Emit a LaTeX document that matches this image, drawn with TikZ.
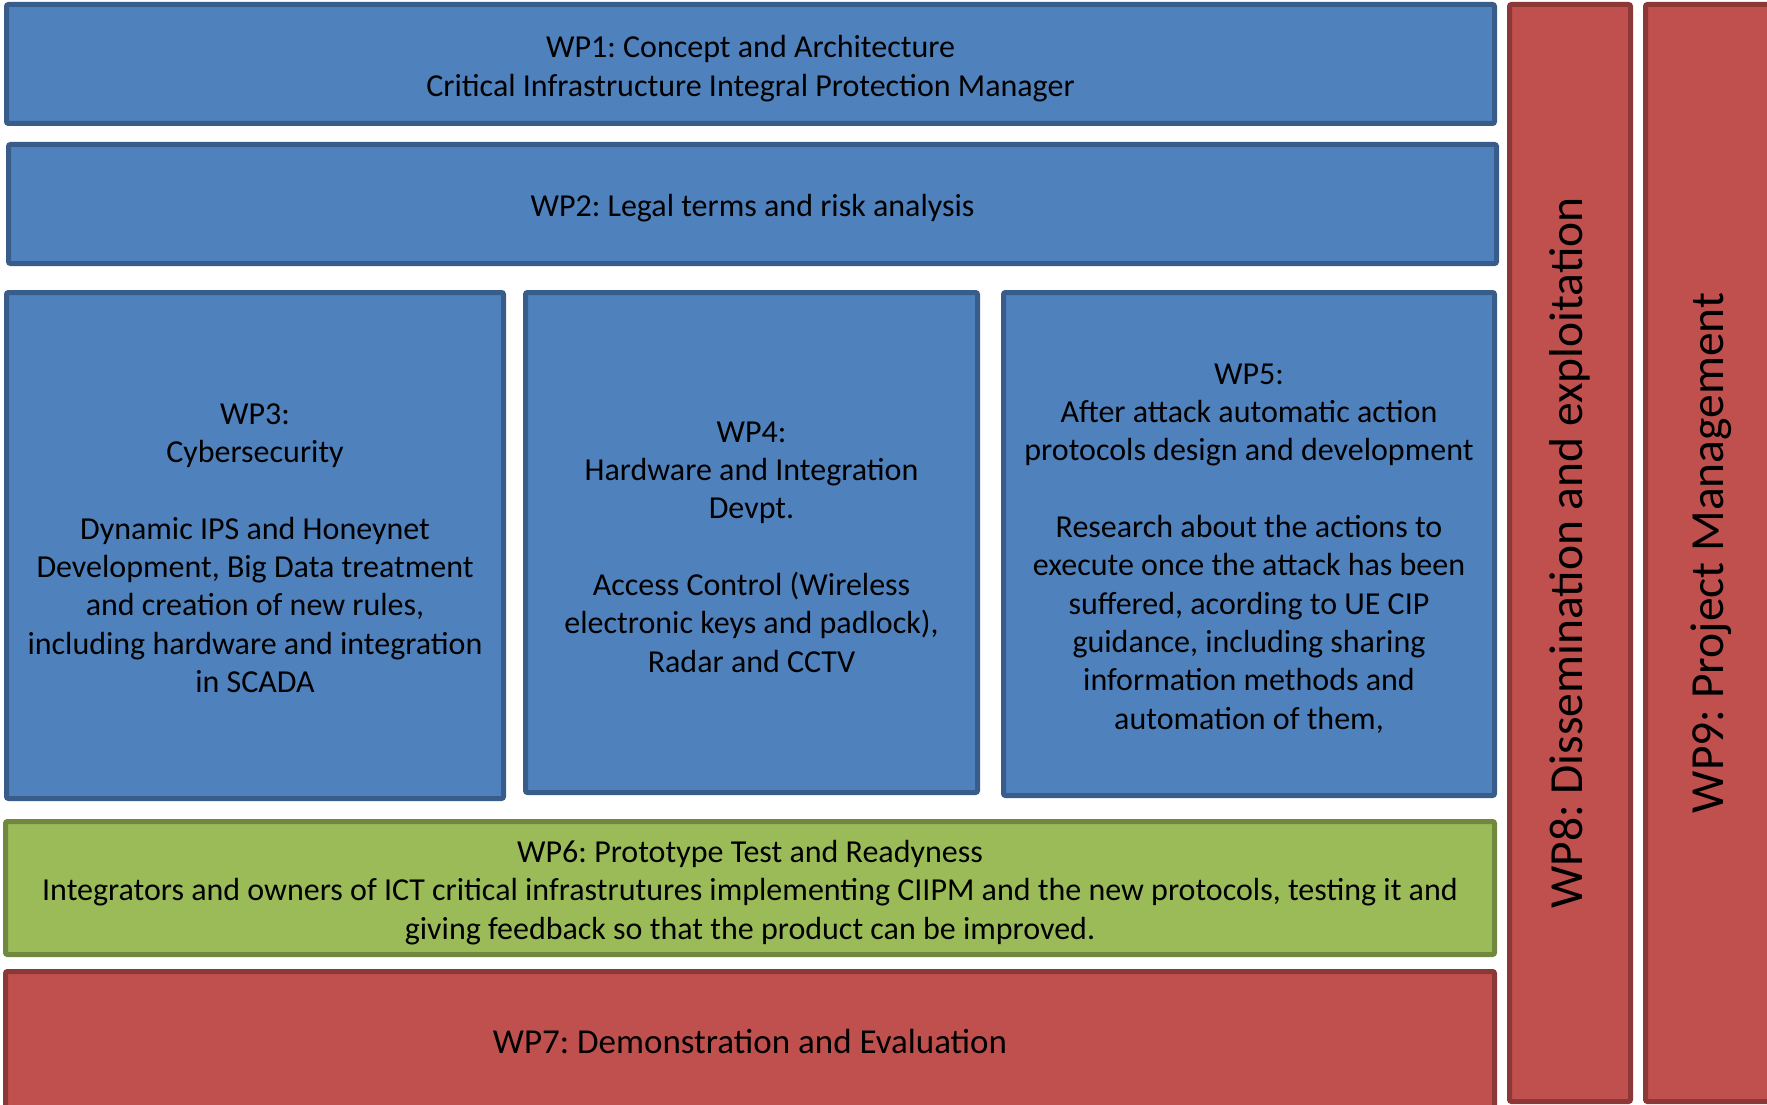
\documentclass[tikz,border=0pt]{standalone}
\usepackage{fontspec}
\setmainfont{Carlito}
\frenchspacing
\definecolor{bfill}{HTML}{4F81BD}
\definecolor{bline}{HTML}{385D8A}
\definecolor{rfill}{HTML}{C0504D}
\definecolor{rline}{HTML}{8C3836}
\definecolor{gfill}{HTML}{9BBB59}
\definecolor{gline}{HTML}{71893F}
\tikzset{
  wpbox/.style={rectangle, rounded corners=2pt, line width=5pt, inner sep=0pt},
  bluebox/.style={wpbox, fill=bfill, draw=bline},
  redbox/.style={wpbox, fill=rfill, draw=rline},
  greenbox/.style={wpbox, fill=gfill, draw=gline},
  wptext/.style={align=center, inner sep=0pt, text=black, yshift=-4.5pt,
    font=\fontsize{32}{38.3}\selectfont},
  midtext/.style={wptext, yshift=4.5pt, font=\fontsize{35}{42}\selectfont},
  bigtext/.style={align=center, inner sep=0pt, text=black, font=\fontsize{47.5}{56}\selectfont}
}
\begin{document}
\begin{tikzpicture}[x=1pt,y=-1pt]
\useasboundingbox (0,0) rectangle (1767,1105);
\clip (0,0) rectangle (1767,1105);
\node[bluebox, minimum width=1488, minimum height=119,
  label={[wptext]center:{WP1: Concept and Architecture\\Critical Infrastructure Integral Protection Manager}}] (wp1) at (750.5,64) {};
\node[bluebox, minimum width=1488, minimum height=119,
  label={[wptext]center:{WP2: Legal terms and risk analysis}}] (wp2) at (752.5,204) {};
\node[bluebox, minimum width=497, minimum height=506,
  label={[wptext,yshift=2pt]center:{WP3:\\Cybersecurity\\[38.3pt]Dynamic IPS and Honeynet\\Development, Big Data treatment\\and creation of new rules,\\including hardware and integration\\in SCADA}}] (wp3) at (255,545.5) {};
\node[bluebox, minimum width=452, minimum height=500,
  label={[wptext]center:{WP4:\\Hardware and Integration\\Devpt.\\[38.3pt]Access Control (Wireless\\electronic keys and padlock),\\Radar and CCTV}}] (wp4) at (751.5,542.5) {};
\node[bluebox, minimum width=491, minimum height=503,
  label={[wptext]center:{WP5:\\After attack automatic action\\protocols design and development\\[38.3pt]Research about the actions to\\execute once the attack has been\\suffered, acording to UE CIP\\guidance, including sharing\\information methods and\\automation of them,}}] (wp5) at (1249,544) {};
\node[greenbox, minimum width=1489, minimum height=133,
  label={[wptext]center:{WP6: Prototype Test and Readyness\\Integrators and owners of ICT critical infrastrutures implementing CIIPM and the new protocols, testing it and\\giving feedback so that the product can be improved.}}] (wp6) at (750,888) {};
\node[redbox, minimum width=1489, minimum height=140.5,
  label={[midtext]center:{WP7: Demonstration and Evaluation}}] (wp7) at (750,1041.75) {};
\node[redbox, minimum width=121, minimum height=1097,
  label={[bigtext,rotate=90]center:{WP8: Dissemination and exploitation}}] (wp8) at (1570,553) {};
\node[redbox, minimum width=131.5, minimum height=1097,
  label={[bigtext,rotate=90]center:{WP9: Project Management}}] (wp9) at (1711.25,553) {};
\end{tikzpicture}
\end{document}
